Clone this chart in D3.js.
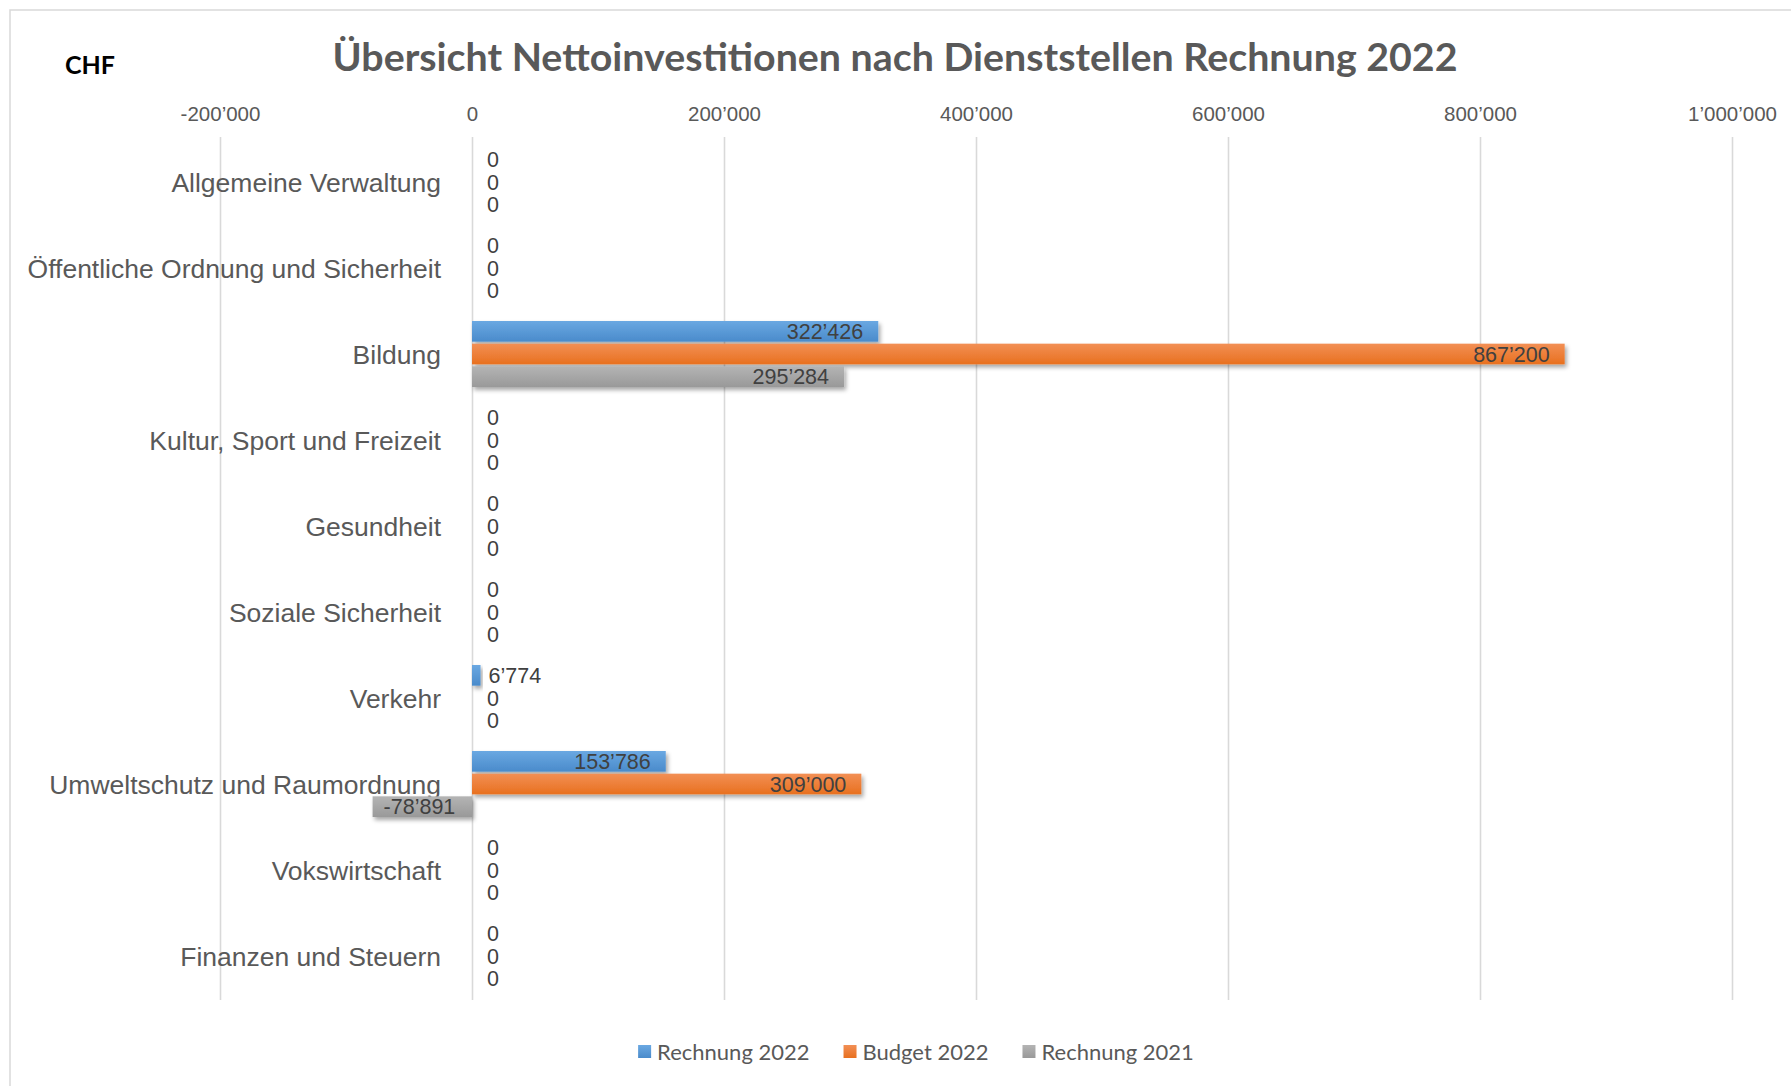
<!DOCTYPE html>
<html>
<head>
<meta charset="utf-8">
<script src="https://cdn.jsdelivr.net/npm/d3@7"></script>
<style>
  body { margin: 0; background: #fff; }
  svg { display: block; }
</style>
</head>
<body>
<div id="chart"></div>
<script>
var categories = ["Allgemeine Verwaltung", "Öffentliche Ordnung und Sicherheit", "Bildung",
    "Kultur, Sport und Freizeit", "Gesundheit", "Soziale Sicherheit", "Verkehr",
    "Umweltschutz und Raumordnung", "Vokswirtschaft", "Finanzen und Steuern"];
var seriesNames = ["Rechnung 2022", "Budget 2022", "Rechnung 2021"];
var rechnung2022 = [0, 0, 322426, 0, 0, 0, 6774, 153786, 0, 0];
var budget2022 = [0, 0, 867200, 0, 0, 0, 0, 309000, 0, 0];
var rechnung2021 = [0, 0, 295284, 0, 0, 0, 0, -78891, 0, 0];
var xTicks = [-200000, 0, 200000, 400000, 600000, 800000, 1000000];

var W = 1791, H = 1086;
var plot = {left: 220, right: 1732, top: 140, bottom: 1000};

var svg = d3.select("#chart").append("svg")
    .attr("width", W).attr("height", H);

// colours: [light top, dark bottom]
var colors = {
    "Rechnung 2022": ["#6aa8e2", "#4a8bcb"],
    "Budget 2022": ["#f28f55", "#e8701f"],
    "Rechnung 2021": ["#b4b4b4", "#999999"]
};

var defs = svg.append("defs");
seriesNames.forEach(function (s, i) {
    var g = defs.append("linearGradient").attr("id", "grad" + i)
        .attr("x1", 0).attr("y1", 0).attr("x2", 0).attr("y2", 1);
    g.append("stop").attr("offset", "0%").attr("stop-color", colors[s][0]);
    g.append("stop").attr("offset", "100%").attr("stop-color", colors[s][1]);
});
var f = defs.append("filter").attr("id", "shadow")
    .attr("x", "-10%").attr("y", "-30%").attr("width", "130%").attr("height", "190%");
f.append("feDropShadow").attr("dx", 2).attr("dy", 3).attr("stdDeviation", 2)
    .attr("flood-color", "#000").attr("flood-opacity", 0.35);

// chart frame
svg.append("rect")
    .attr("x", 10).attr("y", 10).attr("width", W + 20).attr("height", H + 20)
    .attr("fill", "none").attr("stroke", "#d9d9d9").attr("stroke-width", 1.5);

var fmt = d3.formatLocale({decimal: ".", thousands: "\u2019", grouping: [3], currency: ["", ""], minus: "-"}).format(",d");

var x = d3.scaleLinear()
    .domain([-200000, 1000000])
    .range([plot.left, plot.right]);

var y = d3.scaleBand()
    .domain(categories)
    .range([plot.top, plot.bottom]);

var y1 = d3.scaleBand()
    .domain(seriesNames)
    .range([9, y.bandwidth() - 9]);

// gridlines
var grid = svg.append("g")
    .attr("transform", "translate(0," + (plot.top - 3) + ")")
    .call(d3.axisBottom(x).tickValues(xTicks).tickSize(plot.bottom - plot.top + 3).tickFormat(""));
grid.select(".domain").remove();
grid.selectAll("line").attr("stroke", "#d9d9d9").attr("stroke-width", 1.6);

// top axis labels
var ax = svg.append("g")
    .attr("transform", "translate(0,121)")
    .call(d3.axisTop(x).tickValues(xTicks).tickSize(0).tickPadding(0).tickFormat(fmt));
ax.select(".domain").remove();
ax.selectAll("text")
    .style("font-family", "'Liberation Sans', Arial, sans-serif")
    .style("font-size", "20.5px")
    .attr("fill", "#595959");

// category labels
svg.append("g").selectAll("text")
    .data(categories)
    .enter()
    .append("text")
    .attr("x", 441)
    .attr("y", d => y(d) + y.bandwidth() / 2)
    .attr("dy", "0.35em")
    .attr("text-anchor", "end")
    .style("font-family", "'Liberation Sans', Arial, sans-serif")
    .style("font-size", "26.5px")
    .attr("fill", "#595959")
    .text(d => d);

// bars
var rows = [];
categories.forEach(function (c, i) {
    [rechnung2022, budget2022, rechnung2021].forEach(function (arr, j) {
        rows.push({cat: c, series: seriesNames[j], idx: j, value: arr[i]});
    });
});

svg.append("g").selectAll("rect")
    .data(rows.filter(d => d.value !== 0))
    .enter()
    .append("rect")
    .attr("x", d => x(Math.min(0, d.value)))
    .attr("y", d => y(d.cat) + y1(d.series))
    .attr("width", d => Math.abs(x(d.value) - x(0)))
    .attr("height", y1.bandwidth() - 2)
    .attr("fill", d => "url(#grad" + d.idx + ")")
    .attr("filter", "url(#shadow)");

// bar labels
svg.append("g").selectAll("text")
    .data(rows)
    .enter()
    .append("text")
    .attr("y", d => y(d.cat) + y1(d.series) + (y1.bandwidth() - 2) / 2)
    .attr("dy", "0.36em")
    .style("font-family", "'Liberation Sans', Arial, sans-serif")
    .style("font-size", "21.5px")
    .attr("fill", "#404040")
    .text(d => fmt(d.value))
    .each(function (d) {
        var t = d3.select(this);
        var w = this.getComputedTextLength();
        var barW = Math.abs(x(d.value) - x(0));
        if (d.value < 0) {
            t.attr("x", x(d.value) + 11).attr("text-anchor", "start");
        } else if (d.value > 0 && barW > w + 20) {
            t.attr("x", x(d.value) - 15).attr("text-anchor", "end");
        } else {
            t.attr("x", x(d.value) + (d.value === 0 ? 15 : 8)).attr("text-anchor", "start");
        }
    });

// title
svg.append("text")
    .attr("x", 895).attr("y", 71)
    .attr("text-anchor", "middle")
    .attr("textLength", 1125)
    .attr("lengthAdjust", "spacingAndGlyphs")
    .style("font-family", "Lato, 'Open Sans', sans-serif")
    .style("font-weight", "bold")
    .style("font-size", "39px")
    .attr("fill", "#595959")
    .text("Übersicht Nettoinvestitionen nach Dienststellen Rechnung 2022");

svg.append("text")
    .attr("x", 65).attr("y", 74)
    .style("font-family", "Lato, 'Open Sans', sans-serif")
    .style("font-weight", "bold")
    .style("font-size", "25px")
    .attr("fill", "#000")
    .text("CHF");

// legend
var legend = svg.append("g");
var lx = 0;
seriesNames.forEach(function (s, i) {
    var item = legend.append("g").attr("transform", "translate(" + lx + ",0)");
    item.append("rect")
        .attr("x", 0).attr("y", -7).attr("width", 13).attr("height", 13)
        .attr("fill", "url(#grad" + i + ")");
    var t = item.append("text")
        .attr("x", 19).attr("y", 0).attr("dy", "0.35em")
        .style("font-family", "Lato, 'Open Sans', sans-serif")
        .style("font-size", "22px")
        .attr("fill", "#595959")
        .text(s);
    lx += 19 + t.node().getComputedTextLength() + 34;
});
var legW = lx - 34;
legend.attr("transform", "translate(" + (916 - legW / 2) + ",1052)");
</script>
</body>
</html>
